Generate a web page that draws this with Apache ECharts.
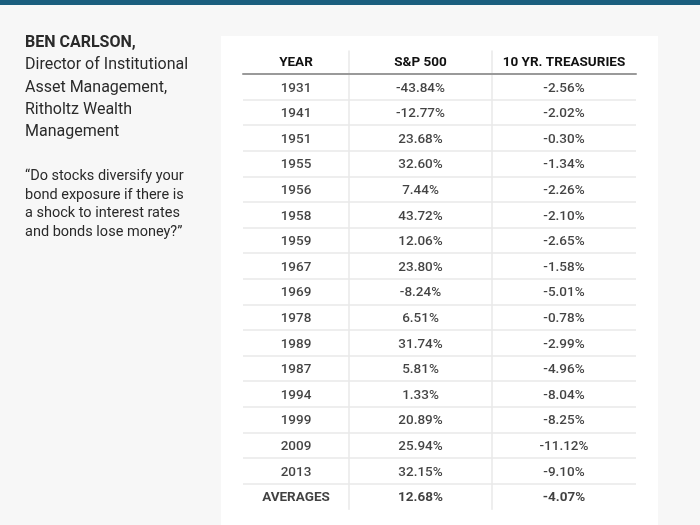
<!DOCTYPE html>
<html>
<head>
<meta charset="utf-8">
<script src="https://cdn.jsdelivr.net/npm/echarts@6/dist/echarts.min.js"></script>
<style>
html,body{margin:0;padding:0;background:#f7f7f7;}
#chart{width:700px;height:525px;}
</style>
</head>
<body>
<div id="chart"></div>
<script>
// ---- data ----
var headers = ['YEAR', 'S&P 500', '10 YR. TREASURIES'];
var years = ['1931','1941','1951','1955','1956','1958','1959','1967','1969','1978','1989','1987','1994','1999','2009','2013'];
var sp500 = [-43.84,-12.77,23.68,32.60,7.44,43.72,12.06,23.80,-8.24,6.51,31.74,5.81,1.33,20.89,25.94,32.15];
var treasuries = [-2.56,-2.02,-0.30,-1.34,-2.26,-2.10,-2.65,-1.58,-5.01,-0.78,-2.99,-4.96,-8.04,-8.25,-11.12,-9.10];
var avgLabel = 'AVERAGES';
var sp500Avg = 12.68;
var treasuriesAvg = -4.07;

var author = 'BEN CARLSON,';
var authorLines = ['Director of Institutional', 'Asset Management,', 'Ritholtz Wealth', 'Management'];
var quoteLines = ['\u201cDo stocks diversify your', 'bond exposure if there is', 'a shock to interest rates', 'and bonds lose money?\u201d'];

// ---- build ----
var rows = years.concat([avgLabel]);
var colTexts = [
  rows.slice(),
  sp500.map(function(v){return v.toFixed(2)+'%';}).concat([sp500Avg.toFixed(2)+'%']),
  treasuries.map(function(v){return v.toFixed(2)+'%';}).concat([treasuriesAvg.toFixed(2)+'%'])
];

var colLeft = [243, 349, 492];
var colWidth = [106, 143, 144];
var headTop = 51, headH = 23, bodyTop = 74, rowH = 25.6;
var FONT = 'Roboto, "Noto Sans", sans-serif';
var divColor = '#e8e8e8';

var grids = [], xAxes = [], yAxes = [], series = [];
for (var c = 0; c < 3; c++) {
  // header grid
  grids.push({left: colLeft[c], width: colWidth[c], top: headTop, height: headH});
  xAxes.push({
    gridIndex: grids.length - 1, type: 'category', data: [headers[c]], position: 'bottom',
    axisLine: {show: true, lineStyle: {color: '#9a9a9a', width: 2}},
    axisTick: {show: false},
    axisLabel: {inside: true, margin: 4, color: '#111', fontFamily: FONT, fontWeight: 'bold', fontSize: 13.5},
    splitLine: {show: false}
  });
  yAxes.push({
    gridIndex: grids.length - 1, type: 'category', data: [''],
    axisLine: {show: c > 0, lineStyle: {color: divColor, width: 1.5}},
    axisTick: {show: false}, axisLabel: {show: false}, splitLine: {show: false}
  });
  // body grid
  grids.push({left: colLeft[c], width: colWidth[c], top: bodyTop, height: rowH * rows.length});
  var gi = grids.length - 1;
  xAxes.push({
    gridIndex: gi, type: 'category', data: [headers[c]], show: false
  });
  yAxes.push({
    gridIndex: gi, type: 'category', data: rows, inverse: true,
    axisLine: {show: c > 0, lineStyle: {color: divColor, width: 1.5}},
    axisTick: {show: false}, axisLabel: {show: false},
    splitLine: {show: true, showMinLine: false, showMaxLine: false, lineStyle: {color: divColor, width: 1.5}}
  });
  var data = rows.map(function(r, i){
    var item = {value: [headers[c], r], text: colTexts[c][i]};
    if (i === rows.length - 1) item.label = {fontWeight: 'bold', color: '#111'};
    return item;
  });
  series.push({
    type: 'scatter', xAxisIndex: xAxes.length - 1, yAxisIndex: yAxes.length - 1,
    symbolSize: 1, itemStyle: {color: 'transparent'}, silent: true,
    data: data,
    label: {
      show: true, position: 'inside', offset: [0, 1.5], color: '#141414', fontFamily: FONT, fontWeight: 500, fontSize: 13.5,
      formatter: function(p){ return p.data.text; }
    }
  });
}

var authorText = '{b|' + author + '}\n' + authorLines.map(function(l){return '{n|' + l + '}';}).join('\n');
var quoteText = quoteLines.join('\n');

var option = {
  backgroundColor: '#f7f7f7',
  animation: false,
  graphic: [
    {type: 'rect', shape: {x: 0, y: 0, width: 700, height: 5}, style: {fill: '#1b5e7e'}, z: -1},
    {type: 'rect', shape: {x: 221, y: 36, width: 437, height: 500}, style: {fill: '#ffffff'}, z: -1}
  ],
  title: [
    {
      left: 25, top: 32, padding: 0, text: authorText,
      textStyle: {
        fontWeight: 'normal',
        rich: {
          b: {fontFamily: FONT, fontWeight: 'bold', fontSize: 16, color: '#2a2a2a', lineHeight: 22.2},
          n: {fontFamily: FONT, fontWeight: 'normal', fontSize: 16, color: '#2a2a2a', lineHeight: 22.2}
        }
      }
    },
    {
      left: 25, top: 167, padding: 0, text: quoteText,
      textStyle: {fontFamily: FONT, fontSize: 14.5, fontWeight: 'normal', color: '#2a2a2a', lineHeight: 18.7}
    }
  ],
  grid: grids,
  xAxis: xAxes,
  yAxis: yAxes,
  series: series
};

var chart = echarts.init(document.getElementById('chart'), null, {renderer: 'canvas'});
chart.setOption(option);
</script>
</body>
</html>
